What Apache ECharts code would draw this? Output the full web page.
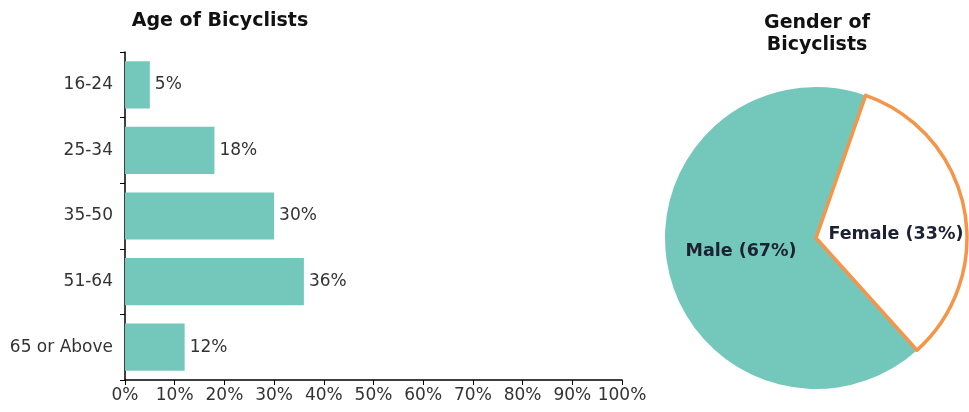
<!DOCTYPE html>
<html>
<head>
<meta charset="utf-8">
<script src="https://cdn.jsdelivr.net/npm/echarts@6/dist/echarts.min.js"></script>
<style>html,body{margin:0;padding:0;background:#fff}#c{width:969px;height:412px}</style>
</head>
<body>
<div id="c"></div>
<script>
var ageCategories = ['16-24', '25-34', '35-50', '51-64', '65 or Above'];
var ageValues = [5, 18, 30, 36, 12];
var xTicks = [0, 10, 20, 30, 40, 50, 60, 70, 80, 90, 100];
var genderNames = ['Male', 'Female'];
var genderValues = [67, 33];

var teal = '#74c8bb';
var font = '"DejaVu Sans", Verdana, sans-serif';
var chart = echarts.init(document.getElementById('c'), null, {renderer: 'canvas'});
chart.setOption({
  animation: false,
  textStyle: {fontFamily: font},
  title: [
    {text: 'Age of Bicyclists', left: 215, top: 7, textAlign: 'center',
     textStyle: {fontFamily: font, fontSize: 19, fontWeight: 'bold', color: '#111'}},
    {text: 'Gender of\nBicyclists', left: 812, top: 7, textAlign: 'center',
     textStyle: {fontFamily: font, fontSize: 19, fontWeight: 'bold', color: '#111', lineHeight: 22}}
  ],
  grid: {left: 125, right: 347, top: 52, bottom: 32, containLabel: false},
  xAxis: {
    type: 'value', min: xTicks[0], max: xTicks[xTicks.length - 1], interval: 10,
    axisLine: {show: true, lineStyle: {color: '#000', width: 1.5}},
    axisTick: {show: true, length: 5, lineStyle: {color: '#000'}},
    splitLine: {show: false},
    axisLabel: {formatter: '{value}%', color: '#333', fontSize: 17, fontFamily: font, margin: 7}
  },
  yAxis: {
    type: 'category', inverse: true, data: ageCategories,
    axisLine: {show: true, lineStyle: {color: '#000', width: 1.5}},
    axisTick: {show: true, length: 5, lineStyle: {color: '#000'}},
    axisLabel: {color: '#333', fontSize: 17, fontFamily: font, margin: 12}
  },
  series: [
    {
      type: 'bar', data: ageValues, barCategoryGap: '28%',
      itemStyle: {color: teal},
      label: {show: true, position: 'right', distance: 5, formatter: '{c}%',
              color: '#333', fontSize: 17, fontFamily: font}
    },
    {
      type: 'pie', center: [816, 238], radius: 151, startAngle: 312, clockwise: true,
      silent: true,
      data: genderNames.map(function (n, i) {
        return {
          name: n, value: genderValues[i],
          itemStyle: i === 0 ? {color: teal, borderWidth: 0}
                             : {color: '#fff', borderColor: '#f5954a', borderWidth: 3.5}
        };
      }),
      label: {show: true, position: 'inside', formatter: '{b} ({c}%)',
              fontFamily: font, fontSize: 17.5, fontWeight: 'bold', color: '#1d2233'},
      labelLayout: function (p) {
        return p.dataIndex === 1 ? {dx: 3, dy: 12} : {dx: 2, dy: -2};
      },
      labelLine: {show: false}
    }
  ]
});
</script>
</body>
</html>
